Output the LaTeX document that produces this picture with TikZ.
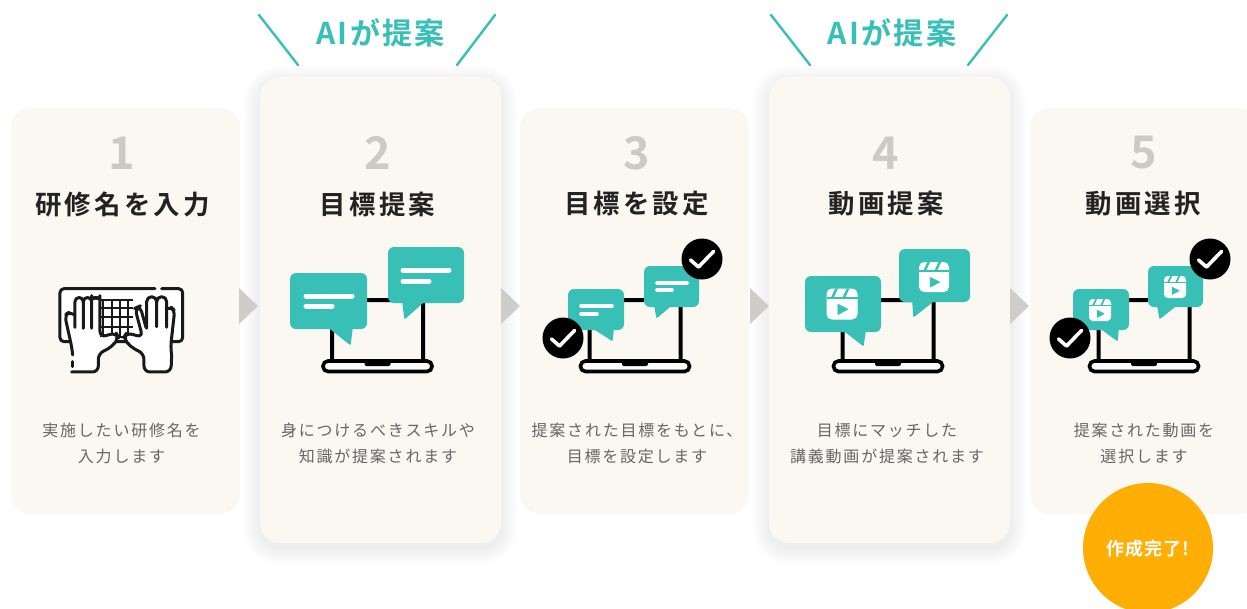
\documentclass[tikz,border=0pt]{standalone}
\usepackage{fontspec}
\setmainfont{Noto Sans CJK JP}
\newfontfamily\ttlfont[LetterSpace=12]{Noto Sans CJK JP Bold}
\newfontfamily\bodyfont[LetterSpace=11]{Noto Sans CJK JP}
\newfontfamily\numfont{Noto Sans CJK JP Bold}
\newfontfamily\aifont[LetterSpace=8]{Noto Sans CJK JP Bold}
\newfontfamily\donefont[LetterSpace=6]{Noto Sans CJK JP Bold}
\definecolor{cardbg}{HTML}{FBF8F2}
\definecolor{teal}{HTML}{38BFB6}
\definecolor{numgray}{HTML}{CBCAC5}
\definecolor{arrowgray}{HTML}{CECDC9}
\definecolor{bodygray}{HTML}{666666}
\definecolor{titleink}{HTML}{222222}
\definecolor{doneorange}{HTML}{FFAE05}
\tikzset{
  card/.style={fill=cardbg,rounded corners=20pt},
  numlabel/.style={text=numgray,font=\numfont\fontsize{45}{45}\selectfont,inner sep=0pt,anchor=center},
  titlelabel/.style={text=titleink,font=\ttlfont\fontsize{26.4}{26.4}\selectfont,inner sep=0pt,anchor=center},
  bodylabel/.style={text=bodygray,font=\bodyfont\fontsize{16}{26}\selectfont,inner sep=0pt,anchor=center,align=center},
  ailabel/.style={text=teal,font=\aifont\fontsize{30}{30}\selectfont,inner sep=0pt,anchor=center},
  ailine/.style={draw=teal,line width=2.4pt,line cap=round},
  arrowtri/.style={fill=arrowgray},
  screenline/.style={draw=black,line width=4pt,line join=round},
  keyline/.style={draw=black!90,line width=3pt,line cap=round,line join=round},
  gridline/.style={draw=black!90,line width=2.2pt},
}
\newcommand{\softshadow}[4]{%
  \foreach \e in {1,2,...,17}{
    \fill[black,opacity=0.0045,rounded corners={20pt+\e*1pt}] ({#1-\e},{#2-\e+5}) rectangle ({#3+\e},{#4+\e+5});
  }}
\newcommand{\laptop}[1]{%
  \draw[screenline,rounded corners=2.5pt] ({#1-45.5},361) -- ({#1-45.5},300) -- ({#1+45.5},300) -- ({#1+45.5},361);
  \draw[draw=black,line width=3.6pt,rounded corners=5pt,fill=white!60!cardbg] ({#1-54.5},361) -- ({#1+54.5},361) -- ({#1+54.5},371.5) -- ({#1-54.5},371.5) -- cycle;
  \fill[black,rounded corners=2pt] ({#1-13},360) rectangle ({#1+13},366);
}
\newcommand{\bubble}[8]{%
  \fill[teal,rounded corners=6pt] (#1,#2) rectangle (#3,#4);
  \draw[teal,fill=teal,line width=1.6pt,line join=round] (#5,{#4-1}) -- ({#6},{#7-1}) -- (#8,{#4-1}) -- cycle;
}
\newcommand{\msglines}[6]{%
  \draw[white,line width=#6pt,line cap=round] (#1,#3) -- (#2,#3);
  \draw[white,line width=#6pt,line cap=round] (#1,#5) -- (#4,#5);
}
\newcommand{\reelicon}[3]{%
  \begin{scope}[shift={(#1,#2)},scale=#3]
    \fill[white,rounded corners={0.17*#3*1pt}] (-0.5,-0.5) rectangle (0.5,0.5);
    \fill[teal] (-0.5,-0.22) rectangle (0.5,-0.17);
    \fill[teal] (-0.22,-0.5) -- (-0.13,-0.5) -- (-0.27,-0.2) -- (-0.36,-0.2) -- cycle;
    \fill[teal] (0.15,-0.5) -- (0.24,-0.5) -- (0.10,-0.2) -- (0.01,-0.2) -- cycle;
    \draw[teal,fill=teal,line width=0.6pt,line join=round] (-0.13,0.01) -- (0.19,0.17) -- (-0.13,0.34) -- cycle;
  \end{scope}
}
\newcommand{\checkbadge}[2]{%
  \fill[black] (#1,#2) circle (20.5);
  \draw[white,line width=3.6pt,line cap=round,line join=round] ({#1-11.5},{#2+1}) -- ({#1-3.5},{#2+8}) -- ({#1+11.5},{#2-7.5});
}
\begin{document}
\begin{tikzpicture}[x=1pt,y=-1pt]
\useasboundingbox (0,0) rectangle (1247,608);
\clip (0,0) rectangle (1247,608);
\fill[white] (0,0) rectangle (1247,608);
% AI callouts
\coordinate (la1) at (259,15); \coordinate (la2) at (298,65);
\coordinate (ra1) at (495,15); \coordinate (ra2) at (457,65);
\coordinate (lb1) at (771,15); \coordinate (lb2) at (810,65);
\coordinate (rb1) at (1007,15); \coordinate (rb2) at (968,65);
\draw[ailine] (la1) -- (la2); \draw[ailine] (ra1) -- (ra2);
\draw[ailine] (lb1) -- (lb2); \draw[ailine] (rb1) -- (rb2);
\node[ailabel] (aia) at (380.5,33) {AIが提案};
\node[ailabel] (aib) at (892,33) {AIが提案};
% cards
\softshadow{260}{77}{501}{543}
\softshadow{769}{77}{1010}{543}
\fill[card] (11,108) rectangle (240,514);
\fill[card] (260,77) rectangle (501,543);
\fill[card] (520,108) rectangle (749,514);
\fill[card] (769,77) rectangle (1010,543);
\fill[card] (1030,108) rectangle (1259,514);
% arrows
\fill[arrowtri] (239,288) -- (258,306) -- (239,324) -- cycle;
\fill[arrowtri] (501,288) -- (520,306) -- (501,324) -- cycle;
\fill[arrowtri] (750,288) -- (769,306) -- (750,324) -- cycle;
\fill[arrowtri] (1010,288) -- (1029,306) -- (1010,324) -- cycle;
% numbers and titles
\node[numlabel] (n1) at (122,153) {1};
\node[numlabel] (n2) at (378,153) {2};
\node[numlabel] (n3) at (637,153) {3};
\node[numlabel] (n4) at (886,153) {4};
\node[numlabel] (n5) at (1144,153) {5};
\node[titlelabel] (t1) at (122.5,204) {研修名を入力};
\node[titlelabel] (t2) at (377.5,204) {目標提案};
\node[titlelabel] (t3) at (636.5,204) {目標を設定};
\node[titlelabel] (t4) at (886,204) {動画提案};
\node[titlelabel] (t5) at (1143,204) {動画選択};
% bodies
\node[bodylabel] (b1) at (121.5,443) {実施したい研修名を\\入力します};
\node[bodylabel] (b2) at (378,443) {身につけるべきスキルや\\知識が提案されます};
\node[bodylabel] (b3) at (637,443) {提案された目標をもとに、\\目標を設定します};
\node[bodylabel] (b4) at (887,443) {目標にマッチした\\講義動画が提案されます};
\node[bodylabel] (b5) at (1144,443) {提案された動画を\\選択します};
% keyboard icon
\begin{scope}[shift={(20,240)},x=0.3333pt,y=-0.3333pt]
  \fill[white,rounded corners=4pt] (120,146) rectangle (488,305);
  \draw[keyline,rounded corners=4pt] (405,146) -- (120,146) -- (120,305) -- (488,305) -- (488,146) -- (425,146);
  \foreach \gy in {180,205,230,260,290}{\draw[gridline] (215,\gy) -- (340,\gy);}
  \foreach \gx in {250,275,300,325}{\draw[gridline] (\gx,180) -- (\gx,290);}
  % left hand
  \fill[white] (156,395) -- (235,395) -- (235,340) -- (295,295) -- (288,278) -- (240,292) -- (240,180) -- (165,180) -- (135,222) -- (156,315) -- cycle;
  \draw[keyline,rounded corners=6pt] (155,396) -- (235,396) -- (235,340) -- (270,325) -- (297,295) -- (288,278) -- (240,292) -- (240,185)
     arc[start angle=0,end angle=-180,radius=12.5] -- (215,265);
  \draw[keyline] (215,185) arc[start angle=0,end angle=-180,radius=12.5] -- (190,265);
  \draw[keyline] (190,185) arc[start angle=0,end angle=-180,radius=12.5] -- (165,262);
  \draw[keyline,rounded corners=5pt] (165,225) -- (150,215) -- (134,225) -- (155,320) -- (158,345);
  \draw[keyline] (158,365) -- (158,380);
  % right hand
  \fill[white] (455,395) -- (372,395) -- (372,340) -- (312,295) -- (320,278) -- (368,292) -- (345,205) -- (380,180) -- (440,180) -- (465,215) -- (452,315) -- cycle;
  \draw[keyline,rounded corners=6pt] (455,345) -- (453,396) -- (372,396) -- (372,340) -- (337,325) -- (310,295) -- (320,278) -- (368,292) -- (345,205) -- (360,198) -- (378,262);
  \draw[keyline] (380,265) -- (380,185) arc[start angle=180,end angle=360,radius=15] -- (410,260);
  \draw[keyline] (410,185) arc[start angle=180,end angle=360,radius=15] -- (440,262);
  \draw[keyline,rounded corners=5pt] (440,205) -- (452,200) -- (464,212) -- (452,320) -- (455,345);
\end{scope}
% card 2
\laptop{377.5}
\bubble{290}{273}{367}{329}{330}{350}{345}{352}
\msglines{306}{352}{296}{332}{306}{5}
\bubble{388}{247}{464}{303}{403}{405}{319}{423}
\msglines{403}{449}{270}{429}{281}{5}
% card 3
\laptop{635}
\bubble{568}{289}{624}{330}{595}{612}{341}{613}
\msglines{581}{612}{306}{597}{314}{3.6}
\bubble{644}{266}{699}{307}{655}{657}{318}{670}
\msglines{657}{687}{283}{672}{290}{3.6}
\checkbadge{563}{338}
\checkbadge{702}{259}
% card 4
\laptop{888}
\bubble{805}{276}{881}{332}{845}{863}{346}{865}
\reelicon{842}{304}{31}
\bubble{899}{249}{970}{302}{913}{914}{317}{933}
\reelicon{934}{277}{30}
% card 5
\laptop{1144}
\bubble{1073}{289}{1129}{330}{1102}{1117}{341}{1118}
\reelicon{1100}{310}{22}
\bubble{1148}{266}{1203}{307}{1158}{1160}{319}{1175}
\reelicon{1175}{287}{22}
\checkbadge{1070}{338}
\checkbadge{1210}{259}
% done badge
\fill[doneorange] (1148,548) circle (65);
\node[inner sep=0pt,text=white,font=\donefont\fontsize{18}{18}\selectfont] (done) at (1148,549) {作成完了!};
\end{tikzpicture}
\end{document}
